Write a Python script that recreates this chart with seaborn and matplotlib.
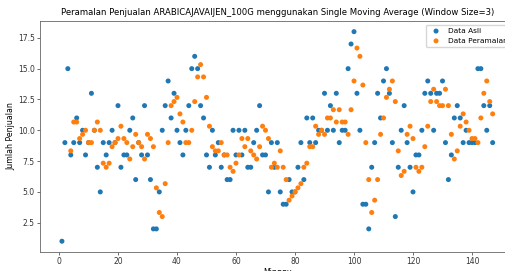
import matplotlib
matplotlib.use("Agg")
import matplotlib.pyplot as plt
import seaborn as sns
import pandas as pd

# Actual weekly sales (weeks 1..147)
aktual = [1, 9, 15, 8, 9, 11, 9, 10, 8, 9,
          13, 10, 7, 5, 9, 8, 9, 10, 9, 12,
          7, 8, 8, 10, 11, 6, 9, 8, 12, 8,
          6, 2, 2, 5, 10, 12, 14, 11, 13, 10,
          9, 8, 10, 12, 15, 16, 15, 12, 11, 8,
          7, 10, 8, 9, 7, 8, 6, 6, 10, 8,
          10, 8, 10, 7, 7, 9, 10, 12, 8, 8,
          5, 9, 7, 9, 5, 4, 4, 6, 5, 5,
          7, 9, 6, 11, 9, 11, 9, 10, 10, 13,
          10, 12, 10, 13, 9, 10, 10, 15, 17, 18,
          13, 10, 4, 4, 2, 7, 9, 13, 11, 14,
          15, 13, 9, 3, 7, 10, 12, 9, 7, 5,
          8, 8, 10, 13, 14, 13, 10, 13, 13, 14,
          9, 6, 8, 11, 12, 11, 9, 10, 9, 9,
          9, 15, 15, 12, 10, 12, 9]
minggu_aktual = list(range(1, len(aktual) + 1))

# Forecast values (weeks 4..147)
peramalan = [8.33, 10.67, 10.67, 9.33, 9.67, 10.0, 9.0,
             9.0, 10.0, 10.67, 10.0, 7.33, 7.0, 7.33, 8.67, 9.0, 9.33,
             10.33, 9.33, 9.0, 7.67, 8.67, 9.67, 9.0, 8.67, 7.67, 9.67,
             9.33, 8.67, 5.33, 3.33, 3.0, 5.67, 9.0, 12.0, 12.33, 12.67,
             11.33, 10.67, 9.0, 9.0, 10.0, 12.33, 14.33, 15.33, 14.33, 12.67,
             10.33, 8.67, 8.33, 8.33, 9.0, 8.0, 8.0, 7.0, 6.67, 7.33,
             8.0, 9.33, 8.67, 9.33, 8.33, 8.0, 7.67, 8.67, 10.33, 10.0,
             9.33, 7.0, 7.33, 7.0, 8.33, 7.0, 6.0, 4.33, 4.67, 5.0,
             5.33, 5.67, 7.0, 7.33, 8.67, 8.67, 10.33, 9.67, 10.0, 9.67,
             11.0, 11.0, 11.67, 10.67, 11.67, 10.67, 10.67, 9.67, 11.67, 14.0,
             16.67, 16.0, 13.67, 9.0, 6.0, 3.33, 4.33, 6.0, 9.67, 11.0,
             12.67, 13.33, 14.0, 12.33, 8.33, 6.33, 6.67, 9.67, 10.33, 9.33,
             7.0, 6.67, 7.0, 8.67, 10.33, 12.33, 13.33, 12.33, 12.0, 12.0,
             13.33, 12.0, 9.67, 7.67, 8.33, 10.33, 11.33, 10.67, 10.0, 9.33,
             9.33, 9.0, 11.0, 13.0, 14.0, 12.33, 11.33]
minggu_peramalan = list(range(4, 4 + len(peramalan)))

judul = "Peramalan Penjualan ARABICAJAVAIJEN_100G menggunakan Single Moving Average (Window Size=3)"
label_x = "Minggu"
label_y = "Jumlah Penjualan"
label_aktual = "Data Asli"
label_peramalan = "Data Peramalan"

df_a = pd.DataFrame({"Minggu": minggu_aktual, "Nilai": aktual})
df_p = pd.DataFrame({"Minggu": minggu_peramalan, "Nilai": peramalan})

plt.rcParams["font.family"] = ["DejaVu Sans"]

fig = plt.figure(figsize=(5.06, 2.71), dpi=100)
W, H = 506, 271
left, right, top, bottom = 40.4, 514.2, 21.2, 251.7
ax = fig.add_axes([left / W, (H - bottom) / H, (right - left) / W, (bottom - top) / H])

sns.scatterplot(data=df_a, x="Minggu", y="Nilai", ax=ax, color="#1f77b4",
                s=13, linewidth=0, edgecolor="none", label=label_aktual)
sns.scatterplot(data=df_p, x="Minggu", y="Nilai", ax=ax, color="#ff7f0e",
                s=13, linewidth=0, edgecolor="none", label=label_peramalan)

ax.set_title(judul, fontsize=6.15, pad=4.5)
ax.set_xlabel(label_x, fontsize=5.6, labelpad=1.5)
ax.set_ylabel(label_y, fontsize=5.6, labelpad=2)
ax.tick_params(labelsize=5.5, length=2, width=0.5, pad=2, colors="#333333")
for sp in ax.spines.values():
    sp.set_linewidth(0.6)
    sp.set_color("#666666")
ax.set_yticks([2.5, 5.0, 7.5, 10.0, 12.5, 15.0, 17.5])
ax.set_xticks([0, 20, 40, 60, 80, 100, 120, 140])
ax.legend(loc="upper right", fontsize=5.3, markerscale=1.0, handletextpad=0.6,
          borderpad=0.4, framealpha=0.8, edgecolor="#cccccc")

fig.savefig("out.png", dpi=100)
